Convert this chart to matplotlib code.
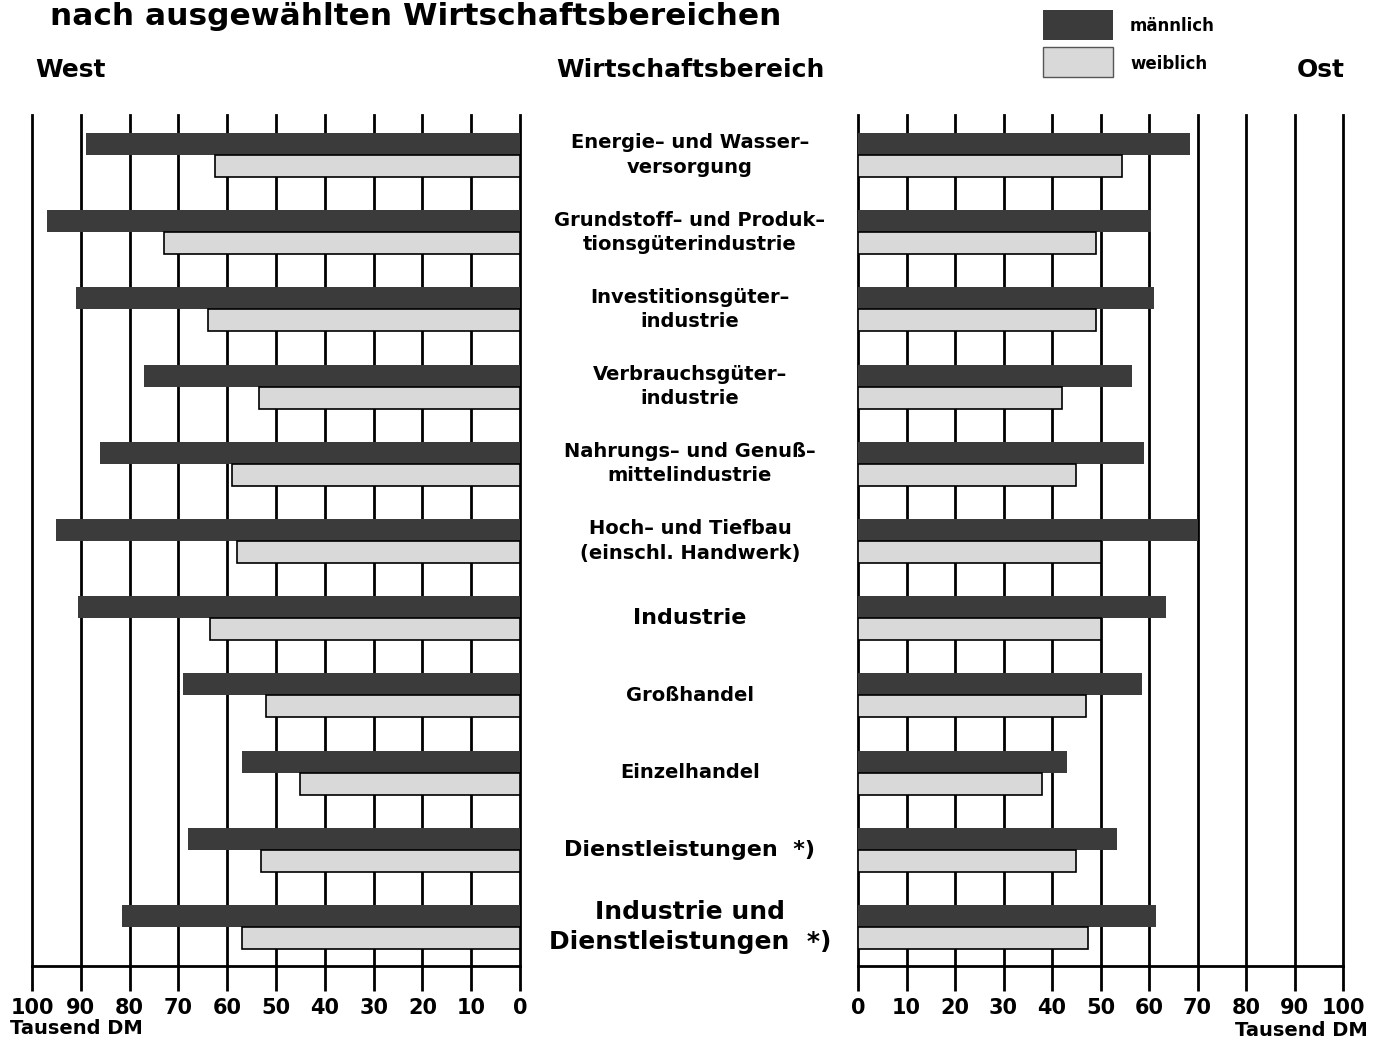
import numpy as np
import matplotlib.pyplot as plt
from matplotlib.patches import Rectangle
from matplotlib.transforms import blended_transform_factory

# Wirtschaftsbereiche (von oben nach unten)
bereiche = [
    "Energie\u2013 und Wasser\u2013\nversorgung",
    "Grundstoff\u2013 und Produk\u2013\ntionsgüterindustrie",
    "Investitionsgüter\u2013\nindustrie",
    "Verbrauchsgüter\u2013\nindustrie",
    "Nahrungs\u2013 und Genuß\u2013\nmittelindustrie",
    "Hoch\u2013 und Tiefbau\n(einschl. Handwerk)",
    "Industrie",
    "Großhandel",
    "Einzelhandel",
    "Dienstleistungen  *)",
    "Industrie und\nDienstleistungen  *)",
]

# Bruttojahresverdienste in Tausend DM
west_maennlich = [89, 97, 91, 77, 86, 95, 90.5, 69, 57, 68, 81.5]
west_weiblich = [62.5, 73, 64, 53.5, 59, 58, 63.5, 52, 45, 53, 57]
ost_maennlich = [68.5, 60.5, 61, 56.5, 59, 70, 63.5, 58.5, 43, 53.5, 61.5]
ost_weiblich = [54.5, 49, 49, 42, 45, 50, 50, 47, 38, 45, 47.5]

ticks = list(range(0, 101, 10))

DUNKEL = "#3b3b3b"
HELL = "#d9d9d9"

fig = plt.figure(figsize=(13.84, 10.4), dpi=100)
W, H = 1384, 1040

def px_axes(x0, x1, y_top, y_bot):
    return [x0 / W, 1 - y_bot / H, (x1 - x0) / W, (y_bot - y_top) / H]

ax_w = fig.add_axes(px_axes(32, 520, 115, 966))
ax_o = fig.add_axes(px_axes(858, 1343, 115, 966))

pos = np.arange(len(bereiche))
h = 0.285

for ax, m, w in [(ax_w, west_maennlich, west_weiblich), (ax_o, ost_maennlich, ost_weiblich)]:
    for v in ticks:
        ax.axvline(v, color="black", lw=2, zorder=0, clip_on=False)
    ax.barh(pos - h / 2, m, height=h, color=DUNKEL, edgecolor="none", zorder=3)
    ax.barh(pos + h / 2, w, height=h, color=HELL, edgecolor="black", lw=1.2, zorder=3)
    ax.set_ylim(10.505, -0.518)
    ax.set_yticks([])
    for s in ["top", "left", "right"]:
        ax.spines[s].set_visible(False)
    ax.spines["bottom"].set_linewidth(2)
    ax.set_xticks(ticks)
    ax.tick_params(axis="x", length=18, width=2, direction="out", pad=5, labelsize=15)
    for lbl in ax.get_xticklabels():
        lbl.set_fontweight("bold")

ax_w.set_xlim(100, 0)
ax_o.set_xlim(0, 100)

# Beschriftungen der Wirtschaftsbereiche in der Mitte
trans = blended_transform_factory(fig.transFigure, ax_w.transData)
groesse = {6: 16, 9: 16, 10: 18}
for i, name in enumerate(bereiche):
    fig.text(690 / W, i, name, transform=trans, ha="center", va="center",
             fontsize=groesse.get(i, 14), fontweight="bold", linespacing=1.35)

# Kopfzeilen
fig.text(50 / W, 1 - 2 / H, "nach ausgewählten Wirtschaftsbereichen",
         fontsize=22.5, fontweight="bold", va="top", ha="left")
fig.text(35 / W, 1 - 70 / H, "West", fontsize=18, fontweight="bold", va="center", ha="left")
fig.text(690 / W, 1 - 70 / H, "Wirtschaftsbereich", fontsize=18, fontweight="bold",
         va="center", ha="center")
fig.text(1345 / W, 1 - 70 / H, "Ost", fontsize=18, fontweight="bold", va="center", ha="right")

# Legende
fig.add_artist(Rectangle((1043 / W, 1 - 40 / H), 70 / W, 30 / H, transform=fig.transFigure,
                         facecolor=DUNKEL, edgecolor="none"))
fig.add_artist(Rectangle((1043 / W, 1 - 77 / H), 70 / W, 30 / H, transform=fig.transFigure,
                         facecolor=HELL, edgecolor="#555555", lw=1))
fig.text(1130 / W, 1 - 26 / H, "männlich", fontsize=12, fontweight="bold", va="center")
fig.text(1130 / W, 1 - 64 / H, "weiblich", fontsize=12, fontweight="bold", va="center")

# Einheit
fig.text(10 / W, 1 - 1029 / H, "Tausend DM", fontsize=14, fontweight="bold", va="center", ha="left")
fig.text(1368 / W, 1 - 1030 / H, "Tausend DM", fontsize=14, fontweight="bold", va="center", ha="right")

fig.savefig("out.png", dpi=100)
